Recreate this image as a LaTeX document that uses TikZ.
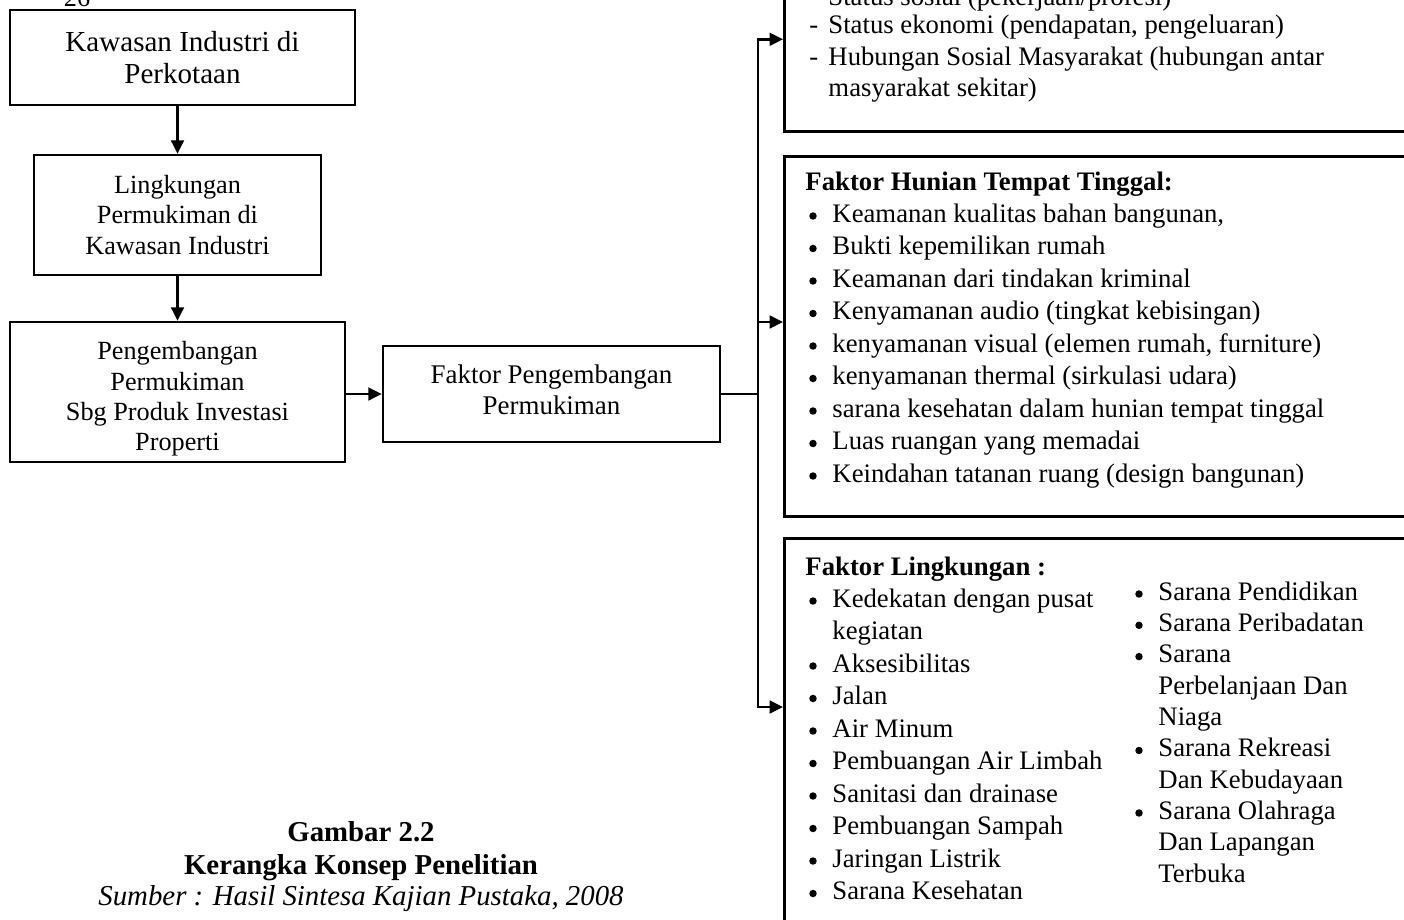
\documentclass[tikz,border=0pt]{standalone}
\usepackage{fontspec}
\setmainfont{Liberation Serif}
\usetikzlibrary{arrows.meta,positioning}

\tikzset{
  box/.style={draw, line width=1.1pt, align=center, inner sep=0pt,
    font=\fontsize{11.2}{12.9}\selectfont},
  boxtxt/.style={align=center, inner sep=0pt, font=\fontsize{11.2}{12.9}\selectfont},
  panel/.style={draw, line width=1.1pt, inner sep=0pt, anchor=north west},
  arr/.style={line width=1.1pt, -{Triangle[length=0.2cm,width=0.19cm]}},
  trunk/.style={line width=1.1pt},
  item/.style={anchor=base west, inner sep=0pt, font=\fontsize{11.4}{13.9}\selectfont},
  head/.style={item, font=\fontsize{11.4}{13.9}\selectfont\bfseries},
  capt/.style={anchor=base, inner sep=0pt, font=\fontsize{12.3}{13.9}\selectfont},
}
\newcommand{\dsh}{\makebox[0.285cm][l]{-}}
% bullet dot left of a list line
\newcommand{\dotat}[1]{\fill (#1.base west) ++(-19,-6) circle (0.056cm);}

\begin{document}
\begin{tikzpicture}[x=0.015cm, y=-0.015cm]
  \useasboundingbox (0,0) rectangle (1404,919);
  \clip (0,0) rectangle (1404,919);

  % page number
  \node[capt, font=\fontsize{11.2}{12.9}\selectfont] (page) at (77,6) {26};

  % left column
  \node[box, minimum width=5.175cm, minimum height=1.425cm,
    font=\fontsize{12.4}{13.7}\selectfont] (kawasan) at (182.5,57.5)
    {Kawasan Industri di\\Perkotaan};
  \node[box, minimum width=4.305cm, minimum height=1.8cm] (lingkungan) at (177.5,215)
    {Lingkungan\\Permukiman di\\Kawasan Industri};
  \node[box, minimum width=5.025cm, minimum height=2.1cm] (investasi) at (177.5,392) {};
  \node[boxtxt] (investasitxt) at (177.5,399)
    {Pengembangan\\Permukiman\\Sbg Produk Investasi\\Properti};
  \node[box, minimum width=5.055cm, minimum height=1.44cm] (faktor) at (551.5,394) {};
  \node[boxtxt, font=\fontsize{11.5}{13.2}\selectfont] (faktortxt) at (551.5,390)
    {Faktor Pengembangan\\Permukiman};

  \draw[arr] (kawasan.south -| lingkungan.north) -- (lingkungan.north);
  \draw[arr] (lingkungan.south) -- (investasi.north);
  \draw[arr] (investasi.east |- faktor.west) -- (faktor.west);

  % right panels
  \node[panel, minimum width=9.6cm, minimum height=2.76cm] (sosial) at (783,-54) {};
  \node[panel, minimum width=9.6cm, minimum height=5.4cm] (hunian) at (783,155) {};
  \node[panel, minimum width=9.6cm, minimum height=6.1cm] (lingk) at (783,537) {};

  \coordinate (jn) at (758,394);
  \coordinate (hunianin) at (783,322);
  \coordinate (lingkin) at (783,707);
  \draw[trunk] (faktor.east) -- (jn);
  \draw[arr] (jn) |- (sosial.west);
  \draw[arr] (jn) |- (hunianin);
  \draw[arr] (jn) |- (lingkin);

  % faktor sosial
  \foreach \y/\txt [count=\i] in {5/{\dsh Status sosial (pekerjaan/profesi)},
      33/{\dsh Status ekonomi (pendapatan, pengeluaran)},
      65/{\dsh Hubungan Sosial Masyarakat (hubungan antar},
      96/{\hspace{0.285cm}masyarakat sekitar)}}
    \node[item] (sos\i) at (809,\y) {\txt};

  % faktor hunian
  \node[head] (hunianhd) at (805,190) {Faktor Hunian Tempat Tinggal:};
  \foreach \y/\txt [count=\i] in {222/{Keamanan kualitas bahan bangunan,},
      254.5/Bukti kepemilikan rumah,
      287/Keamanan dari tindakan kriminal,
      319.5/Kenyamanan audio (tingkat kebisingan),
      352/{kenyamanan visual (elemen rumah, furniture)},
      384.5/kenyamanan thermal (sirkulasi udara),
      417/sarana kesehatan dalam hunian tempat tinggal,
      449.5/Luas ruangan yang memadai,
      482/Keindahan tatanan ruang (design bangunan)}
    {\node[item] (hun\i) at (832,\y) {\txt};
     \dotat{hun\i}}

  % faktor lingkungan
  \node[head] (lingkhd) at (805,575) {Faktor Lingkungan :};
  \foreach \y/\b/\txt [count=\i] in {607/1/Kedekatan dengan pusat,
      639.5/0/kegiatan,
      672/1/Aksesibilitas,
      704.5/1/Jalan,
      737/1/Air Minum,
      769.5/1/Pembuangan Air Limbah,
      802/1/Sanitasi dan drainase,
      834.5/1/Pembuangan Sampah,
      867/1/Jaringan Listrik,
      899.5/1/Sarana Kesehatan}
    {\node[item] (lkl\i) at (832,\y) {\txt};
     \ifnum\b=1 \dotat{lkl\i}\fi}
  \foreach \y/\b/\txt [count=\i] in {600/1/Sarana Pendidikan,
      631.3/1/Sarana Peribadatan,
      662.6/1/Sarana,
      694/0/Perbelanjaan Dan,
      725/0/Niaga,
      756.5/1/Sarana Rekreasi,
      788/0/Dan Kebudayaan,
      819/1/Sarana Olahraga,
      850/0/Dan Lapangan,
      882/0/Terbuka}
    {\node[item] (lkr\i) at (1158,\y) {\txt};
     \ifnum\b=1 \dotat{lkr\i}\fi}

  % caption
  \node[capt, font=\fontsize{12.3}{13.9}\selectfont\bfseries] (gambar) at (361,841) {Gambar 2.2};
  \node[capt, font=\fontsize{12.3}{13.9}\selectfont\bfseries] (judul) at (361,874) {Kerangka Konsep Penelitian};
  \node[capt, font=\fontsize{12.3}{13.9}\selectfont\itshape] (sumber) at (361,905) {Sumber : Hasil Sintesa Kajian Pustaka, 2008};
\end{tikzpicture}
\end{document}
